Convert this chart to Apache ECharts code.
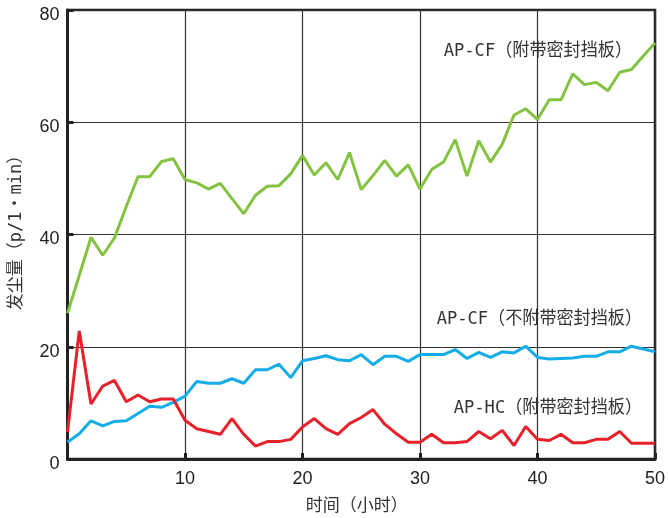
<!DOCTYPE html>
<html>
<head>
<meta charset="utf-8">
<script src="https://cdn.jsdelivr.net/npm/echarts@6/dist/echarts.min.js"></script>
<style>
html,body{margin:0;padding:0;background:#fff;}
#chart{width:668px;height:518px;}
</style>
</head>
<body>
<div id="chart"></div>
<script>
var hours = [0,1,2,3,4,5,6,7,8,9,10,11,12,13,14,15,16,17,18,19,20,21,22,23,24,25,26,27,28,29,30,31,32,33,34,35,36,37,38,39,40,41,42,43,44,45,46,47,48,49,50];
var cfWithPlate = [26,32.7,39.5,36.3,39.4,45,50.3,50.3,53,53.5,49.8,49.2,48.1,49.1,46.4,43.7,47,48.6,48.7,50.8,54.1,50.6,52.8,49.8,54.6,48,50.5,53.2,50.4,52.4,48.1,51.6,52.9,56.9,50.4,56.7,52.9,56.1,61.3,62.4,60.5,64,64,68.6,66.7,67.1,65.6,68.9,69.4,71.8,74.1];
var cfWithoutPlate = [3.0,4.5,6.8,5.9,6.7,6.8,8.1,9.4,9.2,10.1,11.2,13.8,13.5,13.5,14.3,13.5,15.9,15.9,16.9,14.5,17.5,17.9,18.4,17.7,17.5,18.6,16.8,18.3,18.3,17.4,18.6,18.6,18.6,19.5,17.9,19.0,18.1,19.1,18.9,20.1,18.1,17.8,17.9,18.0,18.3,18.3,19.1,19.1,20.1,19.6,19.1];
var hcWithPlate = [4.8,22.8,9.8,13.0,14.0,10.2,11.4,10.2,10.7,10.7,6.9,5.4,4.9,4.4,7.2,4.4,2.3,3.1,3.1,3.5,5.7,7.2,5.4,4.4,6.3,7.4,8.8,6.2,4.5,3.0,3.0,4.4,2.9,2.9,3.1,4.9,3.6,5.1,2.4,5.8,3.5,3.3,4.4,2.9,2.9,3.5,3.5,4.9,2.8,2.8,2.8];
var seriesNames = ['AP-CF（附带密封挡板）','AP-CF（不附带密封挡板）','AP-HC（附带密封挡板）'];
var xTitle = '时间（小时）';
var yTitle = '发尘量（p/1・min）';

function pairs(ys){ return hours.map(function(h,i){ return [h, ys[i]]; }); }

var chart = echarts.init(document.getElementById('chart'), null, {renderer:'canvas'});
var labelFont = '"DejaVu Sans Mono", "Noto Sans CJK SC", sans-serif';
var lineColor = '#333';
function note(text, x, y){
  return {type:'text', x:x, y:y, scaleX:0.95, z:10,
    style:{text:text, font:'18px '+labelFont, fill:'#333', textAlign:'right', textVerticalAlign:'middle'}};
}
chart.setOption({
  animation:false,
  backgroundColor:'#fff',
  grid:{left:67.5,right:13,top:10,bottom:55,show:true,borderColor:'#222',borderWidth:2.5},
  xAxis:{
    type:'value',min:0,max:50,interval:10,
    name:xTitle,nameLocation:'middle',nameGap:37,
    nameTextStyle:{fontSize:17,color:'#333',fontFamily:'"Noto Sans CJK SC", sans-serif',padding:[0,9,0,0]},
    axisLine:{show:true,lineStyle:{color:'#222',width:3}},
    axisTick:{show:true,inside:true,length:6,lineStyle:{color:'#222',width:3}},
    axisLabel:{showMinLabel:false,fontSize:18,color:'#222',margin:11,fontFamily:'"Liberation Sans", Arial, sans-serif'},
    splitLine:{show:true,lineStyle:{color:lineColor,width:1.2}}
  },
  yAxis:{
    type:'value',min:0,max:80,interval:20,
    name:yTitle,nameLocation:'middle',nameGap:42,nameRotate:90,
    nameTextStyle:{fontSize:17,color:'#333',fontFamily:labelFont,padding:[0,0,0,12]},
    axisLine:{show:true,lineStyle:{color:'#222',width:3}},
    axisTick:{show:true,inside:true,length:6,lineStyle:{color:'#222',width:3}},
    axisLabel:{fontSize:18,color:'#222',margin:8,verticalAlign:'top',lineHeight:10,fontFamily:'"Liberation Sans", Arial, sans-serif'},
    splitLine:{show:true,lineStyle:{color:lineColor,width:1.2}}
  },
  series:[
    {name:seriesNames[0],type:'line',data:pairs(cfWithPlate),showSymbol:false,symbol:'none',lineStyle:{color:'#84c341',width:3},itemStyle:{color:'#84c341'},z:3},
    {name:seriesNames[1],type:'line',data:pairs(cfWithoutPlate),showSymbol:false,symbol:'none',lineStyle:{color:'#14ade8',width:3},itemStyle:{color:'#14ade8'},z:3},
    {name:seriesNames[2],type:'line',data:pairs(hcWithPlate),showSymbol:false,symbol:'none',lineStyle:{color:'#e8202a',width:3},itemStyle:{color:'#e8202a'},z:4}
  ],
  graphic:[
    note(seriesNames[0], 632, 51),
    note(seriesNames[1], 642, 319),
    note(seriesNames[2], 642, 408)
  ]
});
</script>
</body>
</html>
